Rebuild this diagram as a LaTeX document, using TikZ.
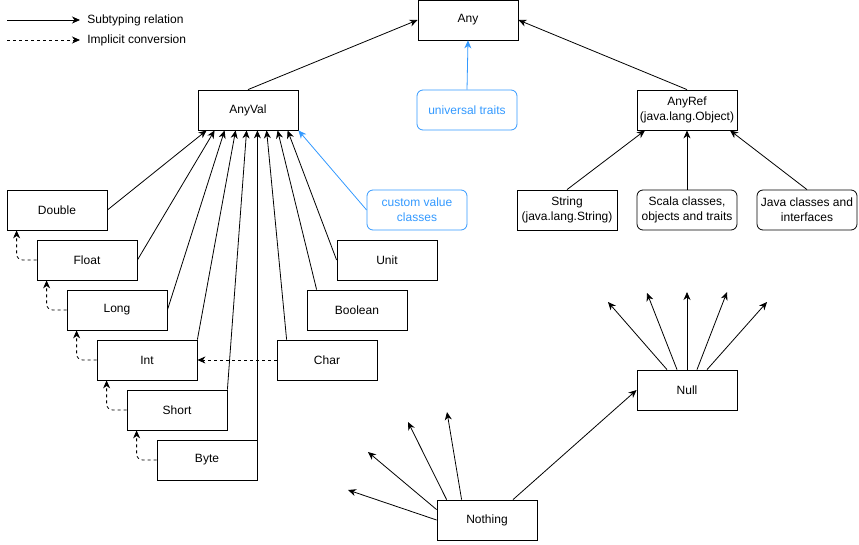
\documentclass[tikz,border=0pt]{standalone}
\usepackage{fontspec}
\setmainfont{Liberation Sans}
\usetikzlibrary{arrows.meta}
\definecolor{scblue}{HTML}{3399FF}

\begin{document}
\begin{tikzpicture}[x=1pt,y=-1pt,line width=0.8pt,
    font=\fontsize{12}{15}\selectfont,
    tbox/.style={draw, minimum width=100pt, minimum height=40pt, inner sep=0pt, align=center},
    rbox/.style={tbox, rounded corners=6pt},
    bluebox/.style={rbox, draw=scblue, text=scblue},
    sub/.style={-{Stealth[length=8pt,width=7pt,inset=2.5pt]}},
    conv/.style={sub, dash pattern=on 3pt off 3pt, rounded corners=6pt}]
  \useasboundingbox (0,0) rectangle (859,544);
  % legend
  \coordinate (legA) at (7,20);
  \coordinate (legB) at (7,40);
  \node[anchor=west, inner sep=0pt] (legsub) at (87,20) {Subtyping relation};
  \node[anchor=west, inner sep=0pt] (legconv) at (87,40) {Implicit conversion};
  \draw[sub] (legA) -- ([xshift=-7pt]legsub.west);
  \draw[conv] (legB) -- ([xshift=-7pt]legconv.west);
  % top of the hierarchy
  \node[tbox] (any) at (468,20) {Any};
  \node[tbox] (anyval) at (248,110) {AnyVal};
  \node[bluebox] (univ) at (467,110) {universal traits};
  \node[tbox] (anyref) at (687,110) {AnyRef\\(java.lang.Object)};
  % reference types
  \node[tbox] (string) at (567,210) {String\\(java.lang.String)};
  \node[rbox] (scala) at (687,210) {Scala classes,\\objects and traits};
  \node[rbox] (java) at (807,210) {Java classes and\\interfaces};
  % value types
  \node[bluebox] (custom) at (417,210) {custom value\\classes};
  \node[tbox] (double) at (57,210) {Double};
  \node[tbox] (float) at (87,260) {Float};
  \node[tbox] (long) at (117,310) {Long};
  \node[tbox] (int) at (147,360) {Int};
  \node[tbox] (short) at (177,410) {Short};
  \node[tbox] (byte) at (207,460) {Byte};
  \node[tbox] (unit) at (387,260) {Unit};
  \node[tbox] (boolean) at (357,310) {Boolean};
  \node[tbox] (char) at (327,360) {Char};
  % bottom types
  \node[tbox] (null) at (687,390) {Null};
  \node[tbox] (nothing) at (487,520) {Nothing};
  % subtyping into Any
  \draw[sub] (anyval.north) -- (any.west);
  \draw[sub, scblue] (univ.north) -- (any.south);
  \draw[sub] (anyref.north) -- (any.east);
  % subtyping into AnyRef
  \draw[sub] (string.north) -- ([xshift=-42pt]anyref.south);
  \draw[sub] (scala.north) -- (anyref.south);
  \draw[sub] (java.north) -- ([xshift=43pt]anyref.south);
  % subtyping into AnyVal
  \draw[sub] (double.east) -- ([xshift=9pt]anyval.south west);
  \draw[sub] (float.east) -- ([xshift=17pt]anyval.south west);
  \draw[sub] (long.east) -- ([xshift=27pt]anyval.south west);
  \draw[sub] (int.north east) -- ([xshift=38pt]anyval.south west);
  \draw[sub] (short.north east) -- ([xshift=49pt]anyval.south west);
  \draw[sub] (byte.north east) -- (byte.north east |- anyval.south);
  \draw[sub] ([xshift=10pt]char.north west) -- ([xshift=69pt]anyval.south west);
  \draw[sub] ([xshift=10pt]boolean.north west) -- ([xshift=80pt]anyval.south west);
  \draw[sub] (unit.west) -- ([xshift=90pt]anyval.south west);
  \draw[sub, scblue] (custom.west) -- (anyval.south east);
  % implicit conversions
  \draw[conv] (float.west) -| ([xshift=10pt]double.south west);
  \draw[conv] (long.west) -| ([xshift=10pt]float.south west);
  \draw[conv] (int.west) -| ([xshift=10pt]long.south west);
  \draw[conv] (short.west) -| ([xshift=10pt]int.south west);
  \draw[conv] (byte.west) -| ([xshift=10pt]short.south west);
  \draw[conv] (char.west) -- (int.east);
  % Null below every reference type
  \coordinate (nu1) at (608,302);
  \coordinate (nu2) at (647,293);
  \coordinate (nu3) at (687,292);
  \coordinate (nu4) at (727,292);
  \coordinate (nu5) at (767,302);
  \draw[sub] ([xshift=-20pt]null.north) -- (nu1);
  \draw[sub] ([xshift=-10pt]null.north) -- (nu2);
  \draw[sub] (null.north) -- (nu3);
  \draw[sub] ([xshift=10pt]null.north) -- (nu4);
  \draw[sub] ([xshift=20pt]null.north) -- (nu5);
  % Nothing below every type
  \coordinate (no1) at (348,490);
  \coordinate (no2) at (368,452);
  \coordinate (no3) at (408,422);
  \coordinate (no4) at (447,412);
  \draw[sub] (nothing.west) -- (no1);
  \draw[sub] ([yshift=-10pt]nothing.north west) -- (no2);
  \draw[sub] ([xshift=10pt]nothing.north west) -- (no3);
  \draw[sub] ([xshift=25pt]nothing.north west) -- (no4);
  \draw[sub] ([xshift=26pt]nothing.north) -- (null.west);
\end{tikzpicture}
\end{document}
